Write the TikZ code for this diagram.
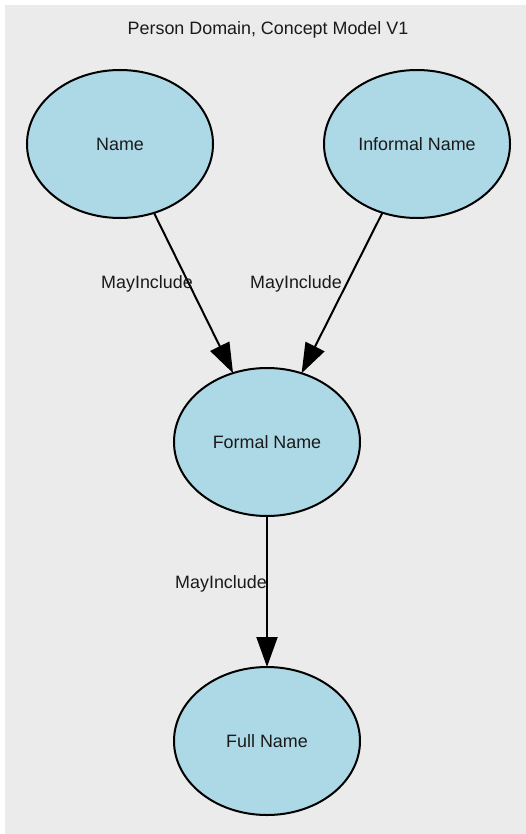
\documentclass[tikz,border=0pt]{standalone}
\usepackage{fontspec}
\setmainfont{Liberation Sans}
\usetikzlibrary{arrows.meta,shapes.geometric}
\definecolor{bgray}{HTML}{EBEBEB}
\definecolor{lblue}{HTML}{ADD8E6}
\definecolor{ink}{HTML}{1A1A1A}
\tikzset{
  concept/.style={ellipse,draw=black,fill=lblue,line width=2pt,minimum width=186pt,minimum height=148pt,inner sep=0pt,outer sep=0pt,text=ink},
  rel/.style={draw=black,line width=2pt,-{Triangle[length=30pt,width=21pt]}},
  rellabel/.style={anchor=base,inner sep=0pt,text=ink}
}

\begin{document}
\begin{tikzpicture}[x=1pt,y=-1pt,font=\fontsize{17.9}{21}\selectfont]
\useasboundingbox (0,0) rectangle (526,834);
\fill[bgray] (5,5) rectangle (526,834);
\node[rellabel] (title) at (268,35) {Person Domain, Concept Model V1};
\node[concept] (name) at (120,144) {Name};
\node[concept] (informal) at (417,144) {Informal Name};
\node[concept] (formal) at (267,442) {Formal Name};
\node[concept] (full) at (267,741) {Full Name};
\draw[rel] (name) -- (formal);
\draw[rel] (informal) -- (formal);
\draw[rel] (formal) -- (full);
% the labels
\node[rellabel] (inc1) at (147,288) {MayInclude};
\node[rellabel] (inc2) at (296,288) {MayInclude};
\node[rellabel] (inc3) at (221,588) {MayInclude};
\end{tikzpicture}
\end{document}
